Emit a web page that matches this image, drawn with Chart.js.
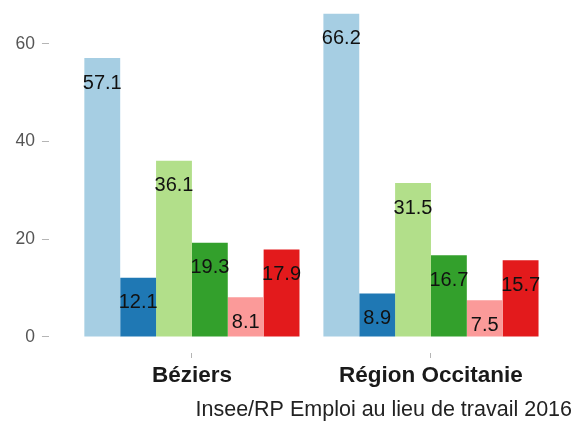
<!DOCTYPE html>
<html>
<head>
<meta charset="utf-8">
<script src="https://cdn.jsdelivr.net/npm/chart.js@4.4.1/dist/chart.umd.min.js"></script>
<style>
    html, body { margin: 0; padding: 0; background: #fff; }
    #wrap { width: 576px; height: 421px; }
</style>
</head>
<body>
<div id="wrap"><canvas id="chart" width="576" height="421"></canvas></div>
<script>
const places = ['Béziers', 'Région Occitanie'];
const seriesNames = ['Série 1', 'Série 2', 'Série 3', 'Série 4', 'Série 5', 'Série 6'];
const seriesColors = ['#a6cee3', '#1f78b4', '#b2df8a', '#33a02c', '#fb9a99', '#e31a1c'];
const beziersValues = [57.1, 12.1, 36.1, 19.3, 8.1, 17.9];
const occitanieValues = [66.2, 8.9, 31.5, 16.7, 7.5, 15.7];
const yTicks = [0, 20, 40, 60];
const caption = 'Insee/RP Emploi au lieu de travail 2016';

const fontFamily = '"Liberation Sans", Arial, sans-serif';

// one dataset per series, x = place index on a linear axis
const datasets = seriesNames.map((name, i) => ({
    label: name,
    data: [
        { x: 0, y: beziersValues[i] },
        { x: 1, y: occitanieValues[i] }
    ],
    backgroundColor: seriesColors[i],
    borderWidth: 0,
    categoryPercentage: 0.9,
    barPercentage: 1.0
}));

// value written inside each bar, just under its top
const barLabels = {
    id: 'barLabels',
    afterDatasetsDraw(chart) {
        const ctx = chart.ctx;
        ctx.save();
        ctx.font = '20px ' + fontFamily;
        ctx.fillStyle = '#111';
        ctx.textAlign = 'center';
        ctx.textBaseline = 'middle';
        chart.data.datasets.forEach((ds, i) => {
            chart.getDatasetMeta(i).data.forEach((bar, j) => {
                ctx.fillText(ds.data[j].y.toFixed(1), bar.x, bar.y + 25);
            });
        });
        ctx.restore();
    }
};

new Chart(document.getElementById('chart'), {
    type: 'bar',
    data: { datasets },
    plugins: [barLabels],
    options: {
        responsive: false,
        animation: false,
        layout: { padding: { left: 8.5, right: 4, top: 0, bottom: 0 } },
        plugins: {
            legend: { display: false },
            tooltip: { enabled: false },
            title: {
                display: true,
                text: caption,
                position: 'bottom',
                align: 'end',
                color: '#222',
                font: { family: fontFamily, size: 21.5, weight: 'normal', lineHeight: 1 },
                padding: { top: 6.25, bottom: 0.25 }
            }
        },
        scales: {
            x: {
                type: 'linear',
                offset: false,
                min: -0.598,
                max: 1.59,
                afterBuildTicks: s => { s.ticks = places.map((p, i) => ({ value: i })); },
                ticks: {
                    callback: v => places[v],
                    color: '#1a1a1a',
                    padding: 4,
                    maxRotation: 0,
                    font: { family: fontFamily, size: 22.5, weight: 'bold' }
                },
                grid: { offset: false, drawOnChartArea: false, tickLength: 5, color: '#b5b5b5' },
                border: { display: false }
            },
            y: {
                min: -3.3,
                max: 69,
                afterBuildTicks: s => { s.ticks = yTicks.map(v => ({ value: v })); },
                afterFit: s => { s.paddingTop = 0; },
                ticks: {
                    color: '#555',
                    padding: 7,
                    font: { family: fontFamily, size: 17.5 }
                },
                grid: { drawOnChartArea: false, tickLength: 7, color: '#b5b5b5' },
                border: { display: false }
            }
        }
    }
});
</script>
</body>
</html>
